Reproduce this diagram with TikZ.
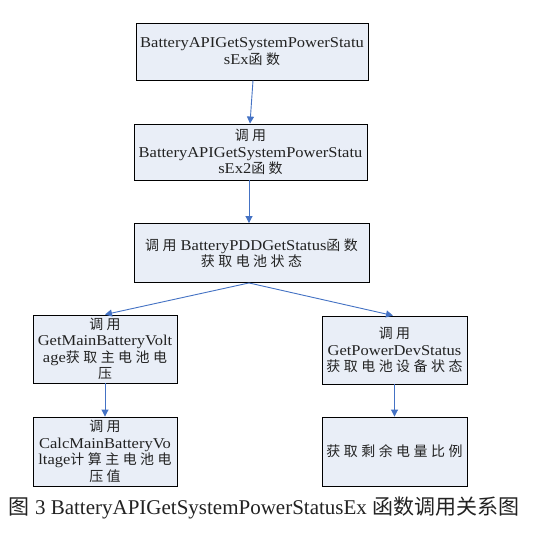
\documentclass[tikz,border=0pt]{standalone}
\usepackage{fontspec}
\setmainfont{Liberation Serif}
\newfontfamily\boxfont[FakeStretch=1.1]{Liberation Serif}
\newfontfamily\cjk[Scale=0.93,LetterSpace=25]{Noto Sans CJK SC}
\newfontfamily\cjkcap{Noto Sans CJK SC}
\usetikzlibrary{arrows.meta}
\definecolor{boxfill}{HTML}{E9EEF7}
\definecolor{arrowblue}{HTML}{4472C4}
\definecolor{txt}{HTML}{222222}
\begin{document}
\begin{tikzpicture}[x=1pt,y=-1pt,
  box/.style={draw=black, line width=0.9pt, fill=boxfill, text=txt, align=center,
    inner sep=0pt, font=\boxfont\fontsize{15}{16.5}\selectfont},
  link/.style={draw=arrowblue, line width=0.9pt, -{Triangle[width=7pt,length=7pt]}}]
\useasboundingbox (0,0) rectangle (536,541);
\fill[white] (0,0) rectangle (536,541);
\node[box, minimum width=232pt, minimum height=57pt] (b1) at (252,51.5)
  {BatteryAPIGetSystemPowerStatu\\sEx{\cjk 函数}};
\node[box, minimum width=233pt, minimum height=56pt] (b2) at (250.5,152)
  {{\cjk 调用}\\BatteryAPIGetSystemPowerStatu\\sEx2{\cjk 函数}};
\node[box, minimum width=235pt, minimum height=59pt] (b3) at (251.5,253)
  {{\cjk 调用} BatteryPDDGetStatus{\cjk 函数}\\{\cjk 获取电池状态}};
\node[box, minimum width=144pt, minimum height=68pt] (b4) at (105,349)
  {{\cjk 调用}\\GetMainBatteryVolt\\age{\cjk 获取主电池电}\\{\cjk 压}};
\node[box, minimum width=144pt, minimum height=69pt] (b5) at (105,451.5)
  {{\cjk 调用}\\CalcMainBatteryVo\\ltage{\cjk 计算主电池电}\\{\cjk 压值}};
\node[box, minimum width=145pt, minimum height=68pt] (b6) at (394.5,350)
  {{\cjk 调用}\\GetPowerDevStatus\\{\cjk 获取电池设备状态}};
\node[box, minimum width=145pt, minimum height=69pt] (b7) at (394.5,451.5)
  {{\cjk 获取剩余电量比例}};
\node[text=txt, font=\fontsize{21}{23}\selectfont] (cap) at (264,508)
  {{\cjkcap 图} 3 BatteryAPIGetSystemPowerStatusEx {\cjkcap 函数调用关系图}};
\draw[link] ([xshift=1pt]b1.south) -- ([xshift=-0.5pt]b2.north);
\draw[link] ([xshift=-1.5pt]b2.south) -- ([xshift=-2.5pt]b3.north);
\draw[link] ([xshift=-2.5pt]b3.south) -- (b4.north);
\draw[link] ([xshift=-2.5pt]b3.south) -- ([xshift=-1.5pt]b6.north);
\draw[link] (b4.south) -- (b5.north);
\draw[link] (b6.south) -- (b7.north);
\end{tikzpicture}
\end{document}
